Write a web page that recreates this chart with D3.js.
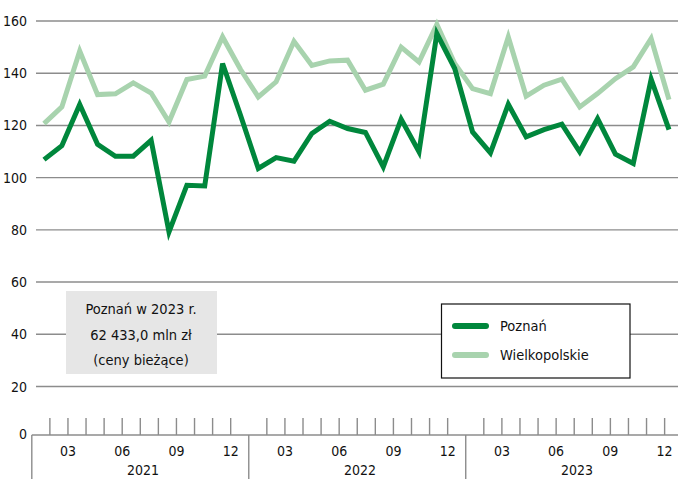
<!DOCTYPE html>
<html>
<head>
<meta charset="utf-8">
<script src="https://cdn.jsdelivr.net/npm/d3@7"></script>
<style>
  body { margin: 0; background: #fff; }
  text { font-family: 'Liberation Sans Narrow', 'DejaVu Sans Condensed', sans-serif; fill: #111; }
</style>
</head>
<body>
<script>
const years = ['2021', '2022', '2023'];
const monthLabels = ['01', '02', '03', '04', '05', '06', '07', '08', '09', '10', '11', '12'];
const shownMonths = ['03', '06', '09', '12'];
const yTicks = [20, 40, 60, 80, 100, 120, 140, 160];

// 01.2021 .. 12.2023
const poznan = [
  106.9, 112.2, 128.0, 112.8, 108.2, 108.2, 114.3, 79.2, 97.1, 96.8, 143.7, 124.0,
  103.5, 107.7, 106.3, 116.9, 121.6, 118.8, 117.3, 104.1, 122.4, 109.9, 155.2, 141.8,
  117.5, 109.5, 128.1, 115.6, 118.4, 120.5, 109.9, 122.6, 109.0, 105.4, 137.7, 118.4
];
const wielkopolskie = [
  120.7, 127.1, 148.5, 131.8, 132.1, 136.3, 132.4, 121.3, 137.6, 138.9, 153.9, 141.5,
  130.9, 136.7, 152.2, 143.0, 144.7, 145.0, 133.5, 135.8, 150.0, 144.3, 158.7, 143.7,
  134.1, 132.2, 153.9, 131.2, 135.4, 137.7, 127.1, 132.2, 137.9, 142.4, 153.3, 129.9
];
const seriesNames = ['Poznań', 'Wielkopolskie'];
const boxLines = ['Poznań w 2023 r.', '62 433,0 mln zł', '(ceny bieżące)'];

const colors = { Poznań: '#00873c', Wielkopolskie: '#a8d3ae' };

const width = 678, height = 479;
const baseY = 435;

const svg = d3.select('body').append('svg')
  .attr('width', width)
  .attr('height', height);

const periods = [];
years.forEach(yr => monthLabels.forEach(m => periods.push(yr + '-' + m)));

const y = d3.scaleLinear().domain([0, 160]).range([438.7, 21]);
const x = d3.scalePoint().domain(periods).range([44, 669]);
const xTick = d3.scaleLinear().domain([0, 36]).range([31.8, 682.7]);

// gridlines
svg.append('g')
  .selectAll('line')
  .data(yTicks)
  .join('line')
  .attr('x1', 36).attr('x2', width)
  .attr('y1', d => y(d)).attr('y2', d => y(d))
  .attr('stroke', '#8c8c8c')
  .attr('stroke-width', 1.4);

// y labels
svg.append('g')
  .selectAll('text')
  .data(yTicks)
  .join('text')
  .attr('x', 27)
  .attr('y', d => y(d))
  .attr('dy', '0.36em')
  .attr('text-anchor', 'end')
  .style('font-size', '14px')
  .text(d => d);

svg.append('text')
  .attr('x', 27).attr('y', baseY - 1)
  .attr('dy', '0.36em')
  .attr('text-anchor', 'end')
  .style('font-size', '14px')
  .text('0');

// x axis
const axis = svg.append('g');
axis.append('line')
  .attr('x1', 31.8).attr('x2', width)
  .attr('y1', baseY).attr('y2', baseY)
  .attr('stroke', '#8c8c8c').attr('stroke-width', 1.4);

const monthIdx = d3.range(0, 37).filter(i => i % 12 !== 0);
axis.selectAll('line.tick')
  .data(monthIdx)
  .join('line')
  .attr('class', 'tick')
  .attr('x1', d => xTick(d)).attr('x2', d => xTick(d))
  .attr('y1', 418).attr('y2', baseY)
  .attr('stroke', '#8c8c8c').attr('stroke-width', 1.4);

axis.selectAll('line.sep')
  .data([0, 12, 24])
  .join('line')
  .attr('class', 'sep')
  .attr('x1', d => xTick(d)).attr('x2', d => xTick(d))
  .attr('y1', baseY).attr('y2', height)
  .attr('stroke', '#8c8c8c').attr('stroke-width', 1.4);

const monthTicks = [];
years.forEach((yr, yi) => shownMonths.forEach(m => monthTicks.push({ i: yi * 12 + (+m - 1), m })));
axis.selectAll('text.month')
  .data(monthTicks)
  .join('text')
  .attr('class', 'month')
  .attr('x', d => xTick(d.i))
  .attr('y', 451)
  .attr('dy', '0.36em')
  .attr('text-anchor', 'middle')
  .style('font-size', '14px')
  .text(d => d.m);

axis.selectAll('text.year')
  .data(years)
  .join('text')
  .attr('class', 'year')
  .attr('x', (d, i) => xTick(i * 12 + 6.15))
  .attr('y', 470)
  .attr('dy', '0.36em')
  .attr('text-anchor', 'middle')
  .style('font-size', '14px')
  .text(d => d);

// lines
const line = d3.line()
  .x((d, i) => x(periods[i]))
  .y(d => y(d));

[['Wielkopolskie', wielkopolskie], ['Poznań', poznan]].forEach(([name, values]) => {
  svg.append('path')
    .datum(values)
    .attr('d', line)
    .attr('fill', 'none')
    .attr('stroke', colors[name])
    .attr('stroke-width', 5)
    .attr('stroke-linejoin', 'miter');
});

// info box
const box = svg.append('g');
box.append('rect')
  .attr('x', 66).attr('y', 291)
  .attr('width', 151).attr('height', 83)
  .attr('fill', '#e6e6e6');
box.selectAll('text')
  .data(boxLines)
  .join('text')
  .attr('x', 141)
  .attr('y', (d, i) => 309 + i * 25.5)
  .attr('dy', '0.36em')
  .attr('text-anchor', 'middle')
  .style('font-size', '14.5px')
  .text(d => d);

// legend
const legend = svg.append('g');
legend.append('rect')
  .attr('x', 441.5).attr('y', 304)
  .attr('width', 188.5).attr('height', 74)
  .attr('fill', '#fff')
  .attr('stroke', '#111')
  .attr('stroke-width', 1.2);

seriesNames.forEach((s, i) => {
  const ly = 326 + i * 29;
  legend.append('line')
    .attr('x1', 455).attr('x2', 486)
    .attr('y1', ly).attr('y2', ly)
    .attr('stroke', colors[s])
    .attr('stroke-width', 6)
    .attr('stroke-linecap', 'round');
  legend.append('text')
    .attr('x', 500)
    .attr('y', ly)
    .attr('dy', '0.36em')
    .style('font-size', '14.5px')
    .text(s);
});
</script>
</body>
</html>
